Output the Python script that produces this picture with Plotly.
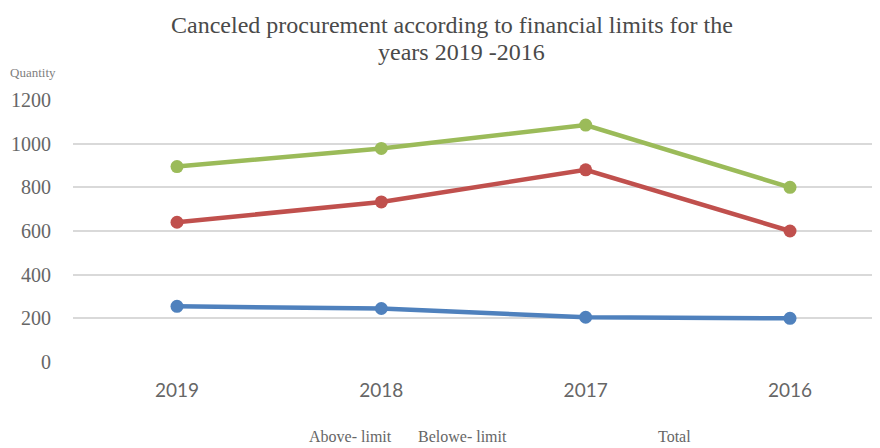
import plotly.graph_objects as go

years = ["2019", "2018", "2017", "2016"]
above_limit = [255, 245, 205, 200]
below_limit = [640, 733, 880, 600]
total = [895, 978, 1085, 800]
series_names = ["Above- limit", "Belowe- limit", "Total"]
series_colors = ["#4F81BD", "#C0504D", "#9BBB59"]
y_ticks = [0, 200, 400, 600, 800, 1000, 1200]

# page body has an 8px margin; work in figure coordinates
OFF = 8
W, H = 880 - OFF, 448 - OFF
L, R, T, B = 65, 0, 92, 86
pw, ph = W - L - R, H - T - B

def px(x):  # reference pixel -> paper
    return (x - OFF - L) / pw

def py(y):
    return (H - B - (y - OFF)) / ph

fig = go.Figure()
for name, vals, col in zip(series_names, [above_limit, below_limit, total], series_colors):
    fig.add_trace(go.Scatter(
        x=years, y=vals, name=name, mode="lines+markers",
        line=dict(color=col, width=4.5),
        marker=dict(color=col, size=13),
        showlegend=False,
    ))

serif = "Liberation Serif"
gray = "#666666"

ann = [
    dict(text="Canceled procurement according to financial limits for the",
         x=px(452), y=py(25), font=dict(family=serif, size=24, color="#4a4a4a")),
    dict(text="years 2019 -2016",
         x=px(461), y=py(52), font=dict(family=serif, size=24, color="#4a4a4a")),
    dict(text="Quantity", x=px(33), y=py(72),
         font=dict(family=serif, size=13, color="#7f7f7f")),
]
legend_x = [307, 416, 656]
for name, lx in zip(series_names, legend_x):
    ann.append(dict(text=name, x=px(lx), y=py(436), xanchor="left",
                    font=dict(family=serif, size=16, color=gray)))
for a in ann:
    a.setdefault("xanchor", "center")
    a.update(xref="paper", yref="paper", yanchor="middle", showarrow=False)

step = (782 - 169) / 3
x0 = -(169 - L) / step
x1 = x0 + pw / step

fig.update_layout(
    width=W, height=H,
    margin=dict(l=L, r=R, t=T, b=B),
    paper_bgcolor="white", plot_bgcolor="white",
    annotations=ann,
    xaxis=dict(
        type="category", range=[x0, x1],
        showgrid=False, zeroline=False, showline=False, ticks="",
        tickfont=dict(family="Lato", size=19, color=gray),
        ticklabelstandoff=15,
    ),
    yaxis=dict(
        range=[0, 1200], tickvals=y_ticks,
        showgrid=True, gridcolor="#d9d9d9", gridwidth=1.5,
        zeroline=False, showline=False, ticks="",
        tickfont=dict(family=serif, size=20, color=gray),
        ticklabelstandoff=21,
    ),
)

fig.write_html("out.html")
